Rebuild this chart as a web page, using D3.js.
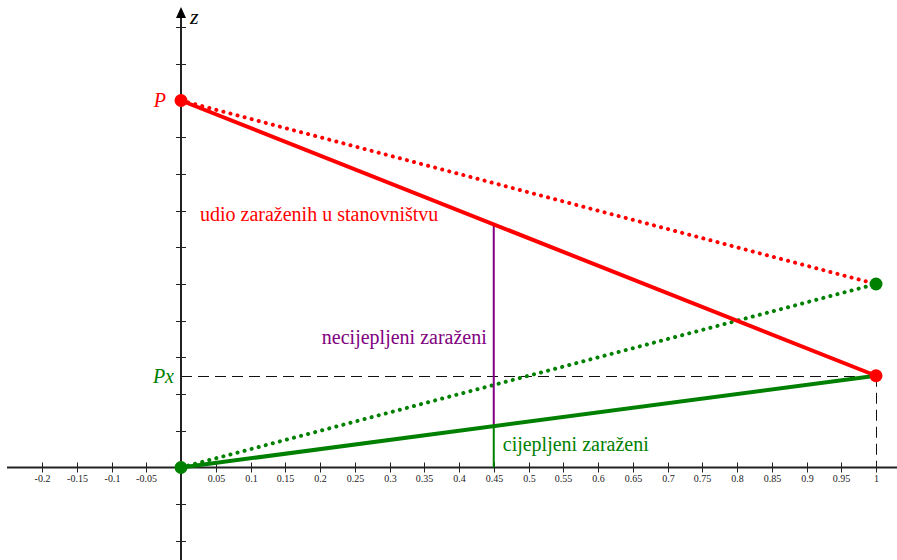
<!DOCTYPE html>
<html>
<head>
<meta charset="utf-8">
<script src="https://cdn.jsdelivr.net/npm/d3@7"></script>
<style>
  body { margin: 0; background: #fff; }
  svg text { font-family: "Liberation Serif", "Times New Roman", "DejaVu Serif", serif; }
</style>
</head>
<body>
<svg id="chart" width="897" height="560"></svg>
<script>
// tick labels on the x axis (origin left unlabeled)
const xTicks = [-0.2, -0.15, -0.1, -0.05, 0.05, 0.1, 0.15, 0.2, 0.25, 0.3, 0.35, 0.4, 0.45,
                0.5, 0.55, 0.6, 0.65, 0.7, 0.75, 0.8, 0.85, 0.9, 0.95, 1];
// unlabeled ticks on the z axis
const zTicks = [-0.2, -0.1, 0.1, 0.2, 0.3, 0.4, 0.5, 0.6, 0.7, 0.8, 0.9, 1, 1.1, 1.2];

// key values
const P = 1;        // z at x = 0 (udio zaraženih)
const Px = 0.25;    // z at x = 1
const Q = 0.5;      // end of the dotted lines
const xMark = 0.45; // vertical marker

// lines: [x, z]
const redSolid = [[0, P], [1, Px]];
const redDotted = [[0, P], [1, Q]];
const greenSolid = [[0, 0], [1, Px]];
const greenDotted = [[0, 0], [1, Q]];

const redPoints = [[0, P], [1, Px]];
const greenPoints = [[0, 0], [1, Q]];

const width = 897;
const height = 560;
const FONT = "'Liberation Serif', 'Times New Roman', serif";

const svg = d3.select("#chart");

const x = d3.scaleLinear().domain([0, 1]).range([181, 876]);
const y = d3.scaleLinear().domain([0, 1]).range([467.5, 100.5]);

const RED = "#ff0000";
const GREEN = "#008000";
const PURPLE = "#800080";

const line = d3.line().x(d => x(d[0])).y(d => y(d[1]));

// z on a straight line at some x
function zAt(seg, xv) {
    const t = (xv - seg[0][0]) / (seg[1][0] - seg[0][0]);
    return seg[0][1] + t * (seg[1][1] - seg[0][1]);
}

// dashed helper lines for Px
svg.append("line")
    .attr("x1", x(0)).attr("x2", x(1))
    .attr("y1", Math.round(y(Px)) + 0.5).attr("y2", Math.round(y(Px)) + 0.5)
    .attr("stroke", "#111").attr("stroke-width", 1)
    .attr("stroke-dasharray", "11,6");
svg.append("line")
    .attr("x1", x(1) + 0.5).attr("x2", x(1) + 0.5)
    .attr("y1", y(Px)).attr("y2", y(0))
    .attr("stroke", "#111").attr("stroke-width", 1)
    .attr("stroke-dasharray", "11,6");

// x axis
const xAxis = svg.append("g").attr("transform", "translate(0," + y(0) + ")");
xAxis.append("line")
    .attr("x1", 7).attr("x2", width)
    .attr("stroke", "#222").attr("stroke-width", 2);
const xt = xAxis.selectAll(".xt")
    .data(xTicks)
    .enter()
    .append("g")
    .attr("transform", d => "translate(" + (Math.round(x(d)) + 0.5) + ",0)");
xt.append("line")
    .attr("y1", -5).attr("y2", 5)
    .attr("stroke", "#222").attr("stroke-width", 1);
xt.append("text")
    .attr("y", 14)
    .attr("text-anchor", "middle")
    .attr("font-family", FONT)
    .attr("font-size", "10px")
    .attr("fill", "#222")
    .text(d => String(d));

// z axis
const zAxis = svg.append("g").attr("transform", "translate(" + x(0) + ",0)");
zAxis.append("line")
    .attr("y1", 14).attr("y2", height)
    .attr("stroke", "#222").attr("stroke-width", 2);
zAxis.append("path")
    .attr("d", "M0,7 L-5,18 L5,18 Z")
    .attr("fill", "#000");
zAxis.selectAll(".zt")
    .data(zTicks)
    .enter()
    .append("line")
    .attr("x1", -5).attr("x2", 5)
    .attr("y1", d => Math.round(y(d)) + 0.5).attr("y2", d => Math.round(y(d)) + 0.5)
    .attr("stroke", "#222").attr("stroke-width", 1);
svg.append("text")
    .attr("x", x(0) + 9).attr("y", 24)
    .attr("font-family", FONT)
    .attr("font-size", "22px").attr("font-style", "italic")
    .attr("fill", "#000")
    .text("z");

// dotted lines
svg.append("path")
    .attr("d", line(redDotted))
    .attr("fill", "none").attr("stroke", RED)
    .attr("stroke-width", 4).attr("stroke-linecap", "round")
    .attr("stroke-dasharray", "0.1,7.2");
svg.append("path")
    .attr("d", line(greenDotted))
    .attr("fill", "none").attr("stroke", GREEN)
    .attr("stroke-width", 4).attr("stroke-linecap", "round")
    .attr("stroke-dasharray", "0.1,7.2");

// vertical marker at xMark
const zRed = zAt(redSolid, xMark);
const zGreen = zAt(greenSolid, xMark);
svg.append("line")
    .attr("x1", x(xMark)).attr("x2", x(xMark))
    .attr("y1", y(zRed)).attr("y2", y(zGreen))
    .attr("stroke", PURPLE).attr("stroke-width", 2);
svg.append("line")
    .attr("x1", x(xMark)).attr("x2", x(xMark))
    .attr("y1", y(zGreen)).attr("y2", y(0))
    .attr("stroke", GREEN).attr("stroke-width", 2);

// solid lines
svg.append("path")
    .attr("d", line(redSolid))
    .attr("fill", "none").attr("stroke", RED)
    .attr("stroke-width", 4);
svg.append("path")
    .attr("d", line(greenSolid))
    .attr("fill", "none").attr("stroke", GREEN)
    .attr("stroke-width", 4);

// points
svg.selectAll(".rp")
    .data(redPoints)
    .enter()
    .append("circle")
    .attr("cx", d => x(d[0])).attr("cy", d => y(d[1]))
    .attr("r", 6.5).attr("fill", RED);
svg.selectAll(".gp")
    .data(greenPoints)
    .enter()
    .append("circle")
    .attr("cx", d => x(d[0])).attr("cy", d => y(d[1]))
    .attr("r", 6.5).attr("fill", GREEN);

// labels
svg.append("text")
    .attr("x", x(0) - 15).attr("y", y(P) + 6)
    .attr("text-anchor", "end")
    .attr("font-family", FONT)
    .attr("font-size", "20px").attr("font-style", "italic")
    .attr("fill", RED)
    .text("P");
svg.append("text")
    .attr("x", x(0) - 7).attr("y", y(Px) + 7)
    .attr("text-anchor", "end")
    .attr("font-family", FONT)
    .attr("font-size", "20px").attr("font-style", "italic")
    .attr("fill", GREEN)
    .text("Px");

svg.append("text")
    .attr("x", 200).attr("y", 221)
    .attr("font-family", FONT)
    .attr("font-size", "20px")
    .attr("fill", RED)
    .text("udio zaraženih u stanovništvu");
svg.append("text")
    .attr("x", x(xMark) - 7).attr("y", 344)
    .attr("text-anchor", "end")
    .attr("font-family", FONT)
    .attr("font-size", "20px")
    .attr("fill", PURPLE)
    .text("necijepljeni zaraženi");
svg.append("text")
    .attr("x", x(xMark) + 9).attr("y", 451)
    .attr("font-family", FONT)
    .attr("font-size", "20px")
    .attr("fill", GREEN)
    .text("cijepljeni zaraženi");
</script>
</body>
</html>
